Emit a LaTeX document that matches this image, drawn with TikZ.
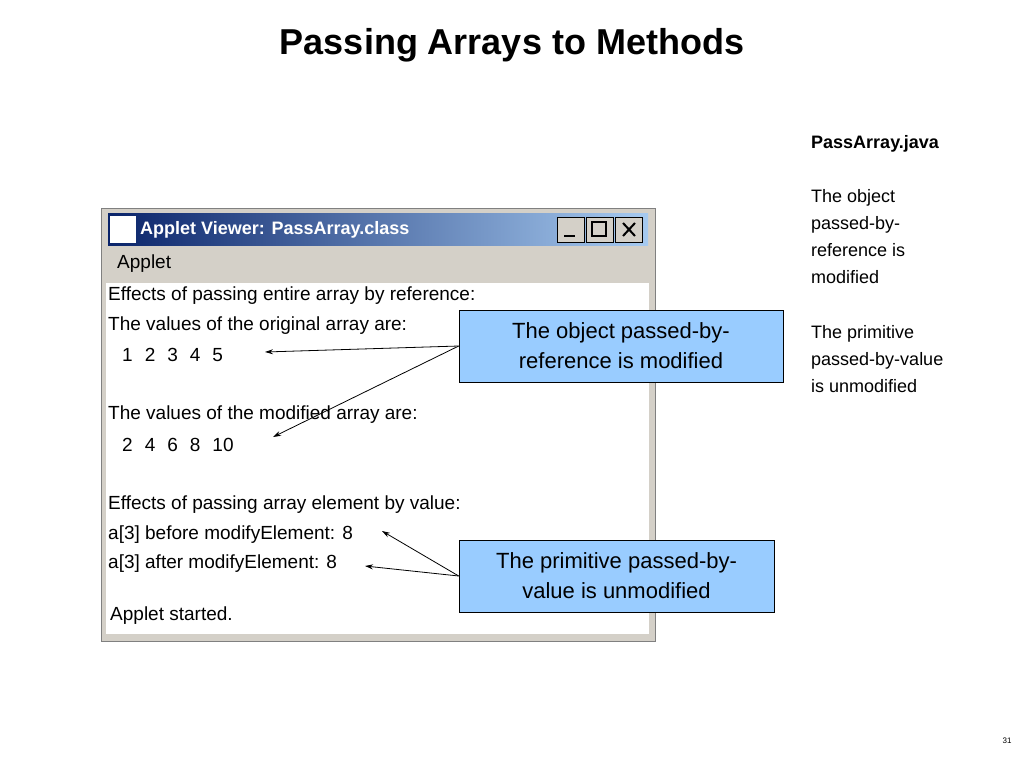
\documentclass[tikz,border=0pt]{standalone}
\usepackage{fontspec}
\setmainfont{Liberation Sans}
\usetikzlibrary{arrows.meta}
\definecolor{callout}{RGB}{153,204,255}
\definecolor{tbdark}{RGB}{10,36,106}
\definecolor{tblight}{RGB}{166,202,240}
\definecolor{wingray}{RGB}{212,208,200}
\begin{document}
\begin{tikzpicture}[x=1pt,y=-1pt,
  callbox/.style={draw=black,fill=callout,line width=0.6pt,minimum width=#1,minimum height=72pt,align=center,font=\fontsize{22}{30}\selectfont,inner sep=2pt},
  applet/.style={anchor=west,font=\fontsize{19}{22}\selectfont,inner sep=0pt},
  side/.style={anchor=north west,align=left,font=\fontsize{18}{27}\selectfont,inner sep=0pt},
  arr/.style={-{Stealth[length=8pt,width=5pt]},line width=0.8pt}]
\useasboundingbox (0,0) rectangle (1024,768);
\node[font=\bfseries\fontsize{36}{40}\selectfont] (title) at (512,45) {Passing Arrays to Methods};
% window
\draw[draw=gray,fill=wingray,line width=1pt] (101,208) rectangle (655,641);
\shade[left color=tbdark,right color=tblight] (108,213) rectangle (648,245);
\node[anchor=west,text=white,font=\bfseries\fontsize{18}{20}\selectfont,inner sep=0pt] (wtitle) at (140,230) {Applet Viewer: PassArray.class};
\fill[white] (110,216) rectangle (136,243);
\foreach \xx/\s in {557/min,586/max,615/close}{\draw[fill=wingray] (\xx,217) rectangle ++(27,25);}
\draw[line width=2pt] (564,236) -- (575,236);
\draw[line width=1.5pt] (592,222) rectangle (606,236);
\draw[line width=2pt] (623,223) -- (635,236) (623,236) -- (635,223);
\node[applet] (menu) at (117,264) {Applet};
\fill[white] (106,283) rectangle (649,634);
\node[applet] (l1) at (108,296) {Effects of passing entire array by reference:};
\node[applet] (l2) at (108,326) {The values of the original array are:};
\node[applet] (l3) at (122,355) {1\hspace{12pt}2\hspace{12pt}3\hspace{12pt}4\hspace{12pt}5};
\node[applet] (l4) at (108,415) {The values of the modified array are:};
\node[applet] (l5) at (122,445) {2\hspace{12pt}4\hspace{12pt}6\hspace{12pt}8\hspace{12pt}10};
\node[applet] (l6) at (108,505) {Effects of passing array element by value:};
\node[applet] (l7) at (108,535) {a[3] before modifyElement: 8};
\node[applet] (l8) at (108,564) {a[3] after modifyElement: 8};
\node[applet] (l9) at (110,616) {Applet started.};
% callouts
\node[callbox=324pt] (c1) at (621,346) {The object passed-by-\\reference is modified};
\node[callbox=315pt] (c2) at (616.5,576) {The primitive passed-by-\\value is unmodified};
\coordinate (t1) at (265,352);
\coordinate (t2) at (273,437);
\coordinate (t3) at (382,531);
\coordinate (t4) at (365,566);
\draw[arr] (c1.west) -- (t1);
\draw[arr] (c1.west) -- (t2);
\draw[arr] (c2.west) -- (t3);
\draw[arr] (c2.west) -- (t4);
% side text
\node[side,font=\bfseries\fontsize{18}{27}\selectfont] (s0) at (811,135) {PassArray.java};
\node[side] (s1) at (811,189) {The object\\passed-by-\\reference is\\modified};
\node[side] (s2) at (811,325) {The primitive\\passed-by-value\\is unmodified};
\node[font=\fontsize{8}{9}\selectfont] (pn) at (1007,741) {31};
\end{tikzpicture}
\end{document}
